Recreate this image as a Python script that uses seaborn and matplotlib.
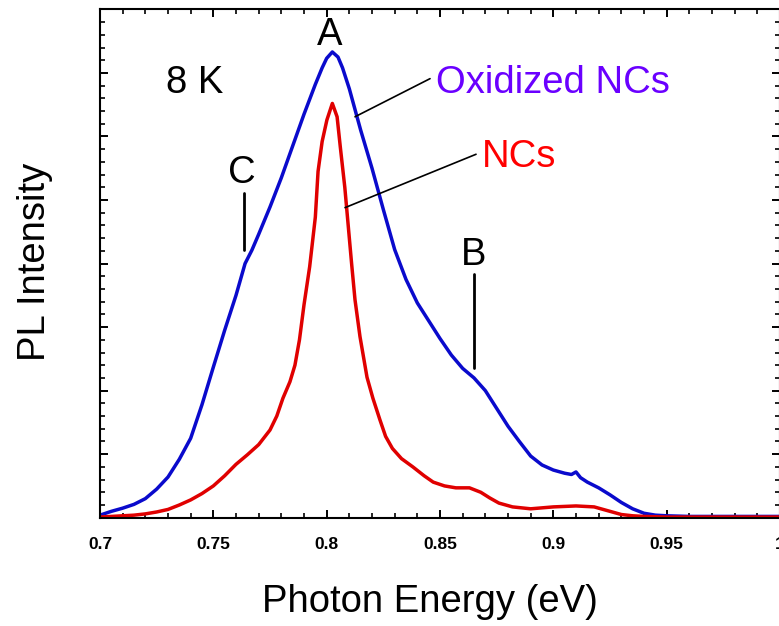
import pandas as pd
import matplotlib
matplotlib.use("Agg")
import matplotlib.pyplot as plt
from matplotlib.ticker import MultipleLocator, FormatStrFormatter
import seaborn as sns

# values (photon energy in eV, PL intensity in arb. units)
ox_energy = [0.700, 0.705, 0.710, 0.715, 0.720, 0.725, 0.730, 0.735, 0.740, 0.745,
             0.750, 0.755, 0.760, 0.764, 0.767, 0.770, 0.775, 0.780, 0.785, 0.790,
             0.795, 0.798, 0.800, 0.8025, 0.805, 0.807, 0.810, 0.815, 0.820, 0.825,
             0.830, 0.835, 0.840, 0.845, 0.850, 0.855, 0.860, 0.865, 0.870, 0.875,
             0.880, 0.885, 0.890, 0.895, 0.900, 0.905, 0.908, 0.910, 0.912, 0.915,
             0.920, 0.925, 0.930, 0.935, 0.940, 0.945, 0.950, 0.960, 0.980, 1.000]
ox_pl = [0.04, 0.10, 0.15, 0.21, 0.30, 0.45, 0.64, 0.92, 1.25, 1.78,
         2.37, 2.95, 3.50, 4.00, 4.21, 4.46, 4.89, 5.35, 5.85, 6.35,
         6.82, 7.08, 7.23, 7.33, 7.25, 7.08, 6.75, 6.10, 5.50, 4.85,
         4.22, 3.75, 3.38, 3.10, 2.82, 2.56, 2.35, 2.20, 2.00, 1.72,
         1.44, 1.20, 0.97, 0.83, 0.75, 0.70, 0.68, 0.72, 0.63, 0.56,
         0.47, 0.36, 0.24, 0.14, 0.07, 0.04, 0.03, 0.02, 0.02, 0.02]

nc_energy = [0.700, 0.705, 0.710, 0.715, 0.720, 0.725, 0.730, 0.735, 0.740, 0.745,
             0.750, 0.755, 0.760, 0.765, 0.770, 0.775, 0.778, 0.7807, 0.7838, 0.786,
             0.788, 0.790, 0.7925, 0.795, 0.7962, 0.798, 0.8001, 0.8025, 0.8046, 0.806,
             0.808, 0.8095, 0.811, 0.8125, 0.8147, 0.8178, 0.8204, 0.8235, 0.826, 0.829,
             0.833, 0.838, 0.843, 0.847, 0.852, 0.857, 0.863, 0.868, 0.872, 0.876,
             0.882, 0.890, 0.900, 0.910, 0.918, 0.922, 0.926, 0.930, 0.935, 0.940,
             0.950, 1.000]
nc_pl = [0.01, 0.02, 0.03, 0.04, 0.06, 0.09, 0.13, 0.20, 0.28, 0.38,
         0.50, 0.66, 0.84, 0.99, 1.15, 1.38, 1.60, 1.88, 2.14, 2.40,
         2.80, 3.35, 3.95, 4.73, 5.45, 5.92, 6.26, 6.52, 6.31, 5.84,
         5.20, 4.60, 4.00, 3.43, 2.85, 2.21, 1.88, 1.54, 1.28, 1.09,
         0.93, 0.80, 0.66, 0.56, 0.50, 0.47, 0.47, 0.40, 0.31, 0.23,
         0.17, 0.14, 0.17, 0.185, 0.17, 0.13, 0.09, 0.05, 0.03, 0.02,
         0.01, 0.01]

xticks = [0.7, 0.75, 0.8, 0.85, 0.9, 0.95, 1.0]

sns.set_theme(style="ticks")
plt.rcParams['font.family'] = ['Liberation Sans', 'DejaVu Sans']
plt.rcParams['text.color'] = 'black'
plt.rcParams['axes.labelcolor'] = 'black'
plt.rcParams['xtick.color'] = 'black'
plt.rcParams['ytick.color'] = 'black'
plt.rcParams['axes.edgecolor'] = 'black'

ox = pd.DataFrame({'Energy': ox_energy, 'PL': ox_pl})
nc = pd.DataFrame({'Energy': nc_energy, 'PL': nc_pl})

fig = plt.figure(figsize=(7.79, 6.26), dpi=100)
ax = fig.add_axes([100/779, 1 - 517.7/626, 680/779, 508.3/626])

sns.lineplot(x='Energy', y='PL', data=ox, ax=ax, color='#0a0acc', linewidth=2.5,
             solid_joinstyle='round')
sns.lineplot(x='Energy', y='PL', data=nc, ax=ax, color='#e00000', linewidth=2.5,
             solid_joinstyle='round')

ax.set_xlim(0.7, 1.0)
ax.set_ylim(0, 8)
ax.set_xticks(xticks)
ax.xaxis.set_major_formatter(FormatStrFormatter('%g'))
ax.xaxis.set_minor_locator(MultipleLocator(0.01))
ax.yaxis.set_major_locator(MultipleLocator(1))
ax.yaxis.set_minor_locator(MultipleLocator(0.2))
ax.tick_params(which='both', direction='in', top=True, right=True, labelleft=False)
ax.tick_params(which='major', length=6, width=1.4, pad=14)
ax.tick_params(which='minor', length=3.3, width=1.2)
for lab in ax.get_xticklabels():
    lab.set_fontsize(12.5)
    lab.set_fontweight('bold')
for s in ax.spines.values():
    s.set_linewidth(1.5)

ax.set_xlabel('Photon Energy (eV)', fontsize=27.5)
ax.set_ylabel('PL Intensity', fontsize=27.5)
ax.xaxis.set_label_coords(0.485, -0.130)
ax.yaxis.set_label_coords(-0.069, 0.504)

# labels on the plot
ax.text(0.7291, 6.69, '8 K', fontsize=27.5, va='baseline', ha='left')
ax.text(0.8015, 7.44, 'A', fontsize=27.5, va='baseline', ha='center')
ax.text(0.7626, 5.27, 'C', fontsize=27.5, va='baseline', ha='center')
ax.text(0.865, 3.98, 'B', fontsize=27.5, va='baseline', ha='center')
ax.plot([0.7635, 0.7635], [4.22, 5.11], color='black', linewidth=2)
ax.plot([0.865, 0.865], [2.36, 3.84], color='black', linewidth=2)

ax.text(0.8482, 6.69, 'Oxidized NCs', fontsize=27.5, va='baseline', ha='left', color='#6a00ff')
ax.plot([0.8125, 0.8456], [6.31, 6.91], color='black', linewidth=1.2)
ax.text(0.8685, 5.52, 'NCs', fontsize=27.5, va='baseline', ha='left', color='#ff0000')
ax.plot([0.8081, 0.8659], [4.88, 5.72], color='black', linewidth=1.2)

plt.savefig('out.png', dpi=100)
